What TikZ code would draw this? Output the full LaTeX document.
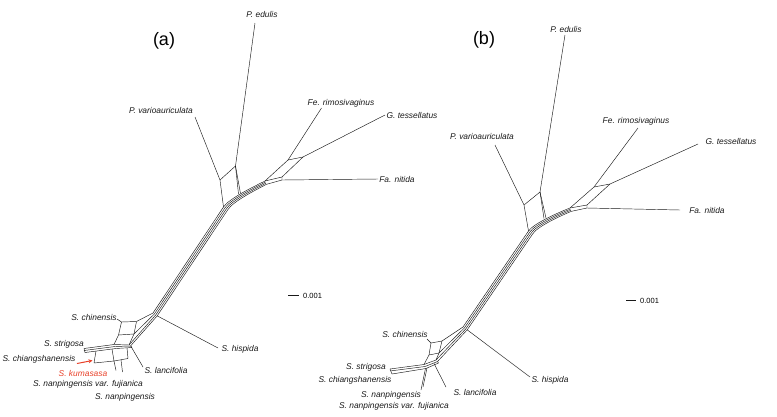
\documentclass[tikz,border=0pt]{standalone}
\usepackage{fontspec}
\setmainfont{Liberation Sans}
\usetikzlibrary{calc,arrows.meta}
\definecolor{kred}{RGB}{232,64,40}
\begin{document}
\begin{tikzpicture}[x=1pt,y=-1pt,
  net/.style={line width=0.45pt,draw=black!90,line join=round},
  lab/.style={font=\fontsize{8.4}{10}\selectfont\itshape,inner sep=0pt,text=black!90},
  plab/.style={font=\fontsize{18}{20}\selectfont,inner sep=0pt},
  sc/.style={font=\fontsize{7.5}{9}\selectfont,inner sep=0pt}]
\useasboundingbox (0,0) rectangle (777,416);

% ================= panel (a) =================
\node[plab] (pa) at (164,41) {(a)};
\node[lab] (a-edu) at (262,14) {P. edulis};
\node[lab] (a-var) at (161,110) {P. varioauriculata};
\node[lab] (a-fer) at (341,103) {Fe. rimosivaginus};
\node[lab] (a-gte) at (412,115) {G. tessellatus};
\node[lab] (a-fan) at (397,179) {Fa. nitida};
\node[lab] (a-chi) at (94,317) {S. chinensis};
\node[lab] (a-his) at (240,349) {S. hispida};
\node[lab] (a-str) at (64,344) {S. strigosa};
\node[lab] (a-cha) at (39,359) {S. chiangshanensis};
\node[lab,text=kred] (a-kum) at (83,373) {S. kumasasa};
\node[lab] (a-lan) at (166,370) {S. lancifolia};
\node[lab] (a-nvf) at (88,384) {S. nanpingensis var. fujianica};
\node[lab] (a-nan) at (125,397) {S. nanpingensis};
\coordinate (a-s1) at (288,295);
\coordinate (a-s2) at (299,295);
\draw[net] (a-s1) -- (a-s2);
\node[sc,anchor=west] (a-sc) at (303,295.5) {0.001};

% upper box
\draw[net] (195,117) -- (220,180) -- (223.5,207);
\draw[net] (255,23) -- (235.5,166);
\draw[net] (220,180) -- (235.5,166) -- (238.5,194);
\draw[net] (235.5,166) -- (240.5,193.5);
% bundle + trunk
\foreach \k in {0,1,2,3}{
  \draw[net] ($(265,181)+\k*(0.5,1.1)$) .. controls ($(254,186.5)+\k*(0.6,1.15)$) and ($(229,198.5)+\k*(1.3,0.95)$) .. ($(223.5,207)+\k*(1.4,0.95)$) -- ($(153,313)+\k*(1.4,0.95)$);
}
% right cluster
\draw[net] (265,181) -- (282,177) -- (282,180) -- (266.5,184.3);
\draw[net] (265,181) -- (288,160) -- (321.5,108);
\draw[net] (282,177) -- (303,157) -- (385,115);
\draw[net] (288,160) -- (303,157);
\draw[net] (282,180) -- (378,179);

% lower cluster
\draw[net] (153,313) -- (136.5,321.5);
\draw[net] (121.5,322) -- (136.5,321.5) -- (134,334) -- (118.5,335) -- cycle;
\draw[net] (117,319) -- (121.5,322);
\draw[net] (154.4,313.95) -- (134,334);
\draw[net] (155.8,314.9) -- (129,345);
\draw[net] (157.2,315.85) -- (130.5,346);
\draw[net] (157.2,315.85) -- (218,348);
\draw[net] (118.5,335) -- (114,344.5);
\draw[net] (134,334) -- (129,345);
\draw[net] (84,348.5) -- (114,344.5) -- (129,345);
\draw[net] (84,350.5) -- (115,346.5) -- (130.5,346);
\draw[net] (85,352.5) -- (116,348.5) -- (132,347.5) -- (130.5,346);
\draw[net] (84,348.5) -- (85,352.5);
\draw[net] (131,346.5) -- (143,367);
\draw[net] (96,351.1) -- (94,363) -- (114,361) -- (112,349);
\draw[net] (127,347.8) -- (128,358.5) -- (114,361);
\draw[net] (114,361) -- (116,370.5);
\draw[net] (121,359.8) -- (122.5,372);
\coordinate (a-arr) at (77,363.5);
\coordinate (a-tip) at (92.5,360.5);
\draw[kred,line width=1pt,-{Stealth[length=4pt,width=4pt]}] (a-arr) -- (a-tip);

% ================= panel (b) =================
\node[plab] (pb) at (484,40) {(b)};
\node[lab] (b-edu) at (566,29) {P. edulis};
\node[lab] (b-var) at (482,136) {P. varioauriculata};
\node[lab] (b-fer) at (636,121) {Fe. rimosivaginus};
\node[lab] (b-gte) at (731,141) {G. tessellatus};
\node[lab] (b-fan) at (707,210) {Fa. nitida};
\node[lab] (b-chi) at (405,334) {S. chinensis};
\node[lab] (b-his) at (550,380) {S. hispida};
\node[lab] (b-str) at (366,367) {S. strigosa};
\node[lab] (b-cha) at (355,380) {S. chiangshanensis};
\node[lab] (b-lan) at (475,392) {S. lancifolia};
\node[lab] (b-nan) at (391,395) {S. nanpingensis};
\node[lab] (b-nvf) at (394,406) {S. nanpingensis var. fujianica};
\coordinate (b-s1) at (626,300);
\coordinate (b-s2) at (636,300);
\draw[net] (b-s1) -- (b-s2);
\node[sc,anchor=west] (b-sc) at (640,300.5) {0.001};

\draw[net] (495,145) -- (524,205) -- (528.5,231);
\draw[net] (565,35) -- (540,192);
\draw[net] (524,205) -- (540,192) -- (544,218.5);
\draw[net] (540,192) -- (546,218);
\foreach \k in {0,1,2,3}{
  \draw[net] ($(570,208)+\k*(0.5,1.1)$) .. controls ($(559.5,212)+\k*(0.6,1.15)$) and ($(533.5,223.5)+\k*(1.3,0.95)$) .. ($(528.5,231)+\k*(1.4,0.95)$) -- ($(463,327)+\k*(1.4,0.95)$);
}
\draw[net] (570,208) -- (587,205) -- (587,208) -- (571.5,211.3);
\draw[net] (570,208) -- (594,187) -- (638,128);
\draw[net] (587,205) -- (610,184) -- (698,144);
\draw[net] (594,187) -- (610,184);
\draw[net] (587,208) -- (680,210);

\draw[net] (463,327) -- (442,341);
\draw[net] (431,343) -- (442,341) -- (439,353) -- (429,355) -- cycle;
\draw[net] (427,339) -- (431,343);
\draw[net] (464.4,327.95) -- (439,353);
\draw[net] (465.8,328.9) -- (436,360);
\draw[net] (467.2,329.85) -- (437.5,361.5);
\draw[net] (467.2,329.85) -- (530,377);
\draw[net] (429,355) -- (424,364.5);
\draw[net] (439,353) -- (436,360);
\draw[net] (390,369) -- (424,364.5) -- (436,360);
\draw[net] (390,371) -- (425,366.5) -- (437.5,361.5);
\draw[net] (392,374) -- (426,368.5) -- (438.5,363) -- (437.5,361.5);
\draw[net] (390,369) -- (392,374);
\draw[net] (434,363.5) -- (446,387);
\draw[net] (427,368) -- (423,387);
\draw[net] (425.5,368.3) -- (421,390);
\end{tikzpicture}
\end{document}
